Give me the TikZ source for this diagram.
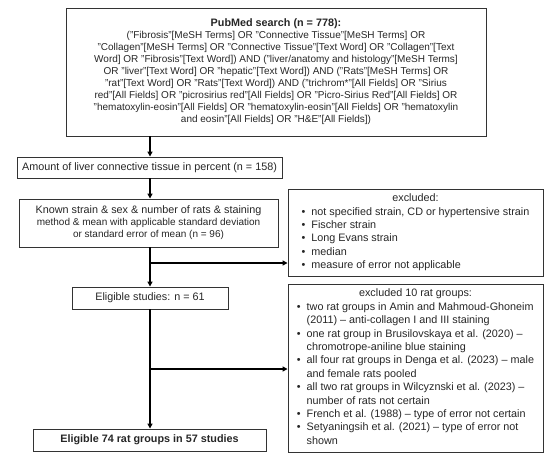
\documentclass[tikz,border=0pt]{standalone}
\usepackage{fontspec}
\setmainfont{Liberation Sans}
\usetikzlibrary{arrows.meta,calc}
\newcommand{\bl}{\textbullet}
\begin{document}
\begin{tikzpicture}[x=1pt,y=1pt,
  box/.style={draw=black!80, line width=0.9pt, inner sep=0pt, align=center, text=black!85},
  arr/.style={line width=1.3pt, -{Triangle[length=5pt,width=5pt]}},
  ln/.style={line width=1.3pt}]
\useasboundingbox (0,0) rectangle (550,-459);
\newcommand{\bx}{\fontsize{10.8}{12.8}\selectfont}
\newcommand{\ex}{\fontsize{10.8}{13.4}\selectfont}
\node[box, minimum width=420, minimum height=128] (top) at (276,-72) {\bx
\textbf{PubMed search (n = 778):}\\
("Fibrosis"[MeSH Terms] OR "Connective Tissue"[MeSH Terms] OR\\
"Collagen"[MeSH Terms] OR "Connective Tissue"[Text Word] OR "Collagen"[Text\\
Word] OR "Fibrosis"[Text Word]) AND ("liver/anatomy and histology"[MeSH Terms]\\
OR "liver"[Text Word] OR "hepatic"[Text Word]) AND ("Rats"[MeSH Terms] OR\\
"rat"[Text Word] OR "Rats"[Text Word]) AND ("trichrom*"[All Fields] OR "Sirius\\
red"[All Fields] OR "picrosirius red"[All Fields] OR "Picro-Sirius Red"[All Fields] OR\\
"hematoxylin-eosin"[All Fields] OR "hematoxylin-eosin"[All Fields] OR "hematoxylin\\
and eosin"[All Fields] OR "H\&E"[All Fields])};
\node[box, minimum width=265, minimum height=21] (amount) at (149.5,-167.5) {\ex Amount of liver connective tissue in percent (n = 158)};
\node[box, minimum width=259, minimum height=48] (known) at (148.5,-223) {\ex
Known strain \& sex \& number of rats \& staining\\
method \& mean with applicable standard deviation\\
or standard error of mean (n = 96)};
\node[box, minimum width=156, minimum height=22] (elig) at (150,-298) {\ex Eligible studies: n = 61};
\node[box, minimum width=233, minimum height=22] (final) at (149.5,-440) {\ex\textbf{Eligible 74 rat groups in 57 studies}};
\node[box, minimum width=255, minimum height=87] (ex1) at (415.5,-232.5) {\ex
\begin{tabular}{@{}l@{\hspace{6pt}}l@{}}
\multicolumn{2}{c}{excluded:}\\
\bl & not specified strain, CD or hypertensive strain\\
\bl & Fischer strain\\
\bl & Long Evans strain\\
\bl & median\\
\bl & measure of error not applicable
\end{tabular}};
\node[box, minimum width=255, minimum height=168] (ex2) at (415.5,-368) {\ex
\begin{tabular}{@{}l@{\hspace{6pt}}l@{}}
\multicolumn{2}{c}{excluded 10 rat groups:}\\
\bl & two rat groups in Amin and Mahmoud-Ghoneim\\
 & (2011) -- anti-collagen I and III staining\\
\bl & one rat group in Brusilovskaya et al. (2020) --\\
 & chromotrope-aniline blue staining\\
\bl & all four rat groups in Denga et al. (2023) -- male\\
 & and female rats pooled\\
\bl & all two rat groups in Wilcyznski et al. (2023) --\\
 & number of rats not certain\\
\bl & French et al. (1988) -- type of error not certain\\
\bl & Setyaningsih et al. (2021) -- type of error not\\
 & shown
\end{tabular}};
\coordinate (sp) at (150,0);
\coordinate (b1) at (150,-263);
\coordinate (b2) at (150,-369);
\draw[arr] (top.south -| sp) -- (amount.north -| sp);
\draw[arr] (amount.south -| sp) -- (known.north -| sp);
\draw[arr] (known.south -| sp) -- (elig.north -| sp);
\draw[arr] (b1) -- (b1 -| ex1.west);
\draw[arr] (elig.south -| sp) -- (final.north -| sp);
\draw[arr] (b2) -- (b2 -| ex2.west);
\end{tikzpicture}
\end{document}
